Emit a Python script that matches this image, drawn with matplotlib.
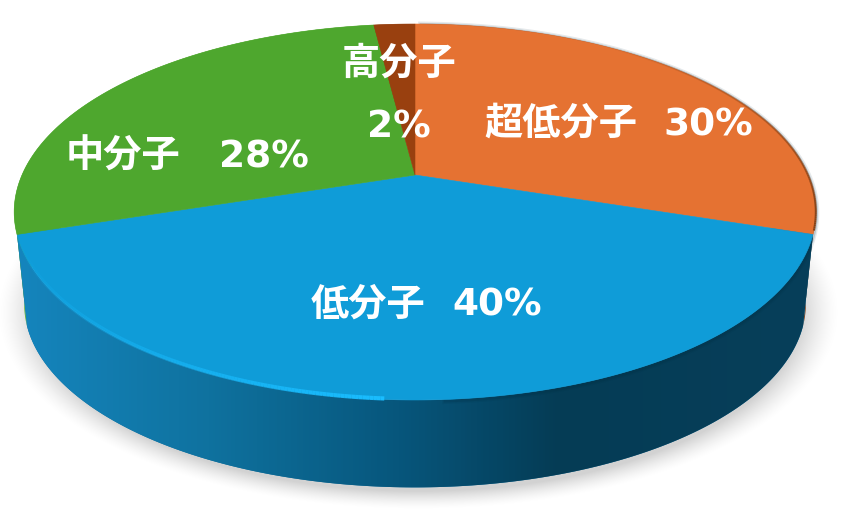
import matplotlib
matplotlib.use('Agg')
import matplotlib.pyplot as plt
from matplotlib.collections import LineCollection
from matplotlib.colors import LinearSegmentedColormap
from matplotlib.patches import Polygon
import numpy as np

plt.rcParams['font.family'] = ['Noto Sans CJK JP', 'DejaVu Sans']

# Data (clockwise from 12 o'clock)
names = ['超低分子', '低分子', '中分子', '高分子']
shares = [30, 40, 28, 2]
topColors = ['#E57232', '#0F9CD8', '#4EA72E', '#99400F']
sideColors = ['#7A3A12', '#0F6F9F', '#5AB332', '#7A3A12']

# Label centres in pixels: name x, name y, percent x, percent y
labelPos = [(561, 123, 708, 125), (368, 304, 497, 306),
            (123, 156, 264, 157), (399, 63, 399, 127)]

# Pie geometry (pixels)
cx = 415
apexY = 175
backY = 24
frontY = 400
rimX = 393
persp = (frontY - backY - 2 * (apexY - backY)) / (frontY - backY)
depthB = (apexY - backY) * (1 + persp)


def project(theta, cy=apexY, scale=1.0):
    # tilted disc seen in perspective, so the front looks bigger
    u, v = np.sin(theta), np.cos(theta)
    w = 1 + persp * v
    return cx + rimX * scale * u / w, cy - depthB * scale * v / w


fig = plt.figure(figsize=(8.5, 5.16), dpi=100)
ax = fig.add_axes([0, 0, 1, 1])
ax.set_xlim(0, 850)
ax.set_ylim(516, 0)
ax.axis('off')

# Soft shadow under the disc
xx, yy = np.meshgrid(np.arange(850), np.arange(516))
dist = np.sqrt(((xx - 418) / 406) ** 2 + ((yy - 312) / 190) ** 2)
shadow = np.zeros((516, 850, 4))
shadow[..., 3] = 0.18 * np.clip((1.04 - dist) / 0.10, 0, 1) ** 1.5
ax.imshow(shadow, extent=(0, 850, 516, 0), aspect='auto', zorder=1)

# Slice angles from the shares
edges = np.cumsum([0] + shares) / sum(shares) * 2 * np.pi
bottomY = 268
bottomScale = 0.975

# Sides first: back slices, then the blue front with a gradient
for i in range(len(shares)):
    t = np.linspace(edges[i], edges[i + 1], 200)
    xTop, yTop = project(t)
    xBot, yBot = project(t, bottomY, bottomScale)
    pts = np.column_stack([np.r_[xTop, xBot[::-1]], np.r_[yTop, yBot[::-1]]])
    side = Polygon(pts, closed=True, facecolor=sideColors[i], edgecolor='none', zorder=2)
    ax.add_patch(side)
    if i == 1:
        sideMap = LinearSegmentedColormap.from_list('side', [
            (0.0, '#1585BD'), (0.24, '#0F729F'), (0.48, '#07567C'),
            (0.68, '#053C55'), (1.0, '#073F5A')])
        grad = ax.imshow(np.linspace(0, 1, 400)[None, :], cmap=sideMap,
                         extent=(15, 815, 516, 0), aspect='auto', zorder=3)
        grad.set_clip_path(side)

# Dark soft edge where the top meets the dark side
t = np.linspace(edges[0] + 0.02, np.pi * 0.98, 100)
xDark, yDark = project(t)
for wid, alp in [(5, 0.10), (3, 0.18)]:
    ax.plot(xDark, yDark + 1, color='#022C40', lw=wid, alpha=alp, zorder=4)

# Top faces
for i in range(len(shares)):
    t = np.linspace(edges[i], edges[i + 1], 200)
    xTop, yTop = project(t)
    pts = np.column_stack([np.r_[cx, xTop], np.r_[apexY, yTop]])
    ax.add_patch(Polygon(pts, closed=True, facecolor=topColors[i],
                         edgecolor=topColors[i], lw=0.4, zorder=5))

# Light rim on the left of the blue slice, fading towards the front
t = np.linspace(edges[2], np.pi * 1.02, 160)[::-1]
rimXs, rimYs = project(t)
rimYs = rimYs - 1
segs = np.stack([np.column_stack([rimXs[:-1], rimYs[:-1]]),
                 np.column_stack([rimXs[1:], rimYs[1:]])], axis=1)
fade = np.linspace(1.0, 0.0, len(segs)) ** 1.3
rimLine = LineCollection(segs, colors=[(0.10, 0.74, 1.0, a) for a in fade],
                         linewidths=3, capstyle='butt', zorder=6)
ax.add_collection(rimLine)

# Thin dark edge round the orange slice, growing towards the blue slice
t = np.linspace(edges[0] + 0.6, edges[1] - 0.02, 120)
xEdge, yEdge = project(t)
edgeSegs = np.stack([np.column_stack([xEdge[:-1], yEdge[:-1]]),
                     np.column_stack([xEdge[1:], yEdge[1:]])], axis=1)
edgeFade = np.linspace(0.0, 0.9, len(edgeSegs))
ax.add_collection(LineCollection(edgeSegs, colors=[(0.48, 0.23, 0.07, a) for a in edgeFade],
                                 linewidths=1.5, zorder=6))

# Labels
for i in range(len(names)):
    nx, ny, px, py = labelPos[i]
    ax.text(nx, ny, names[i], color='white', fontsize=27.5, fontweight='bold',
            ha='center', va='center', zorder=8)
    ax.text(px, py, '%d%%' % shares[i], color='white', fontsize=27, fontweight='bold',
            family='DejaVu Sans', ha='center', va='center', zorder=8)

fig.savefig('out.png', dpi=100, facecolor='white')
